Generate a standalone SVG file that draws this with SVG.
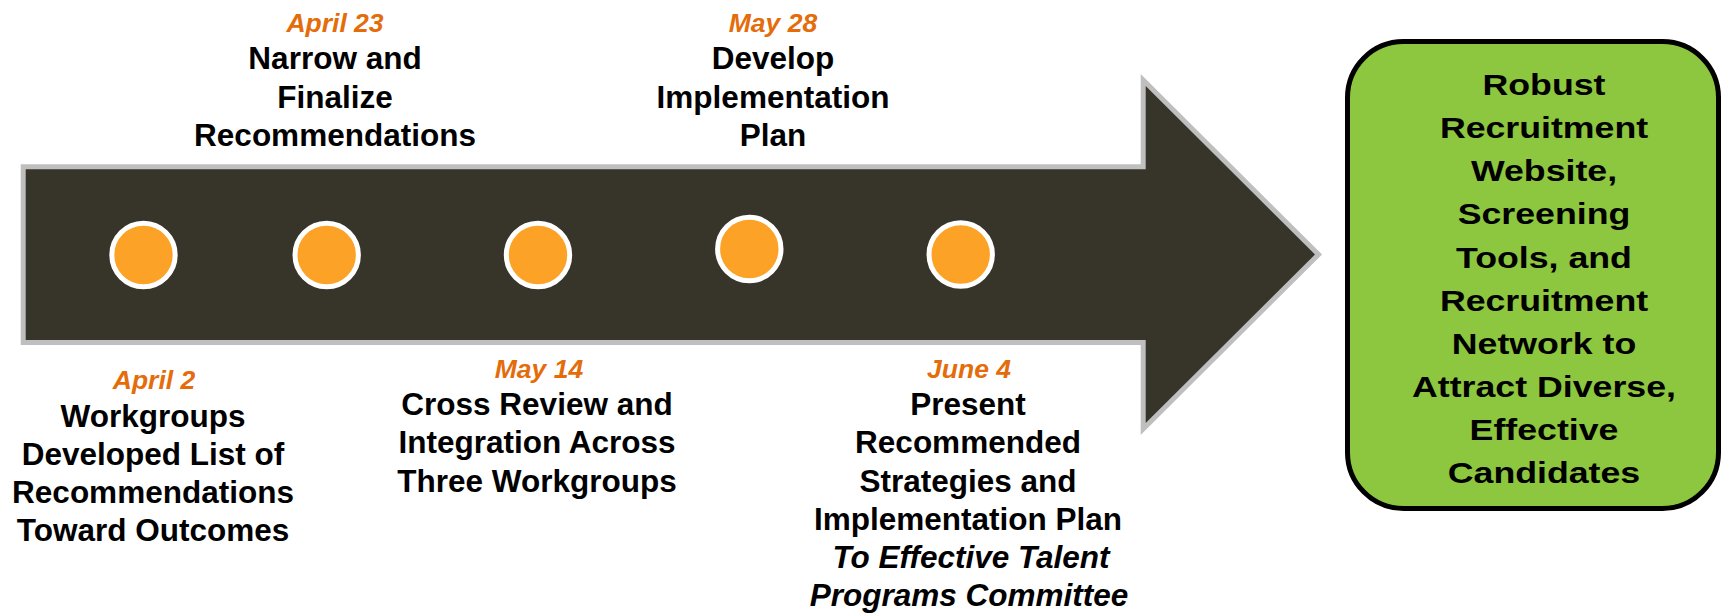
<svg xmlns="http://www.w3.org/2000/svg" width="1723" height="613" viewBox="0 0 1723 613">
<style>
  text { font-family: "Liberation Sans", Arial, sans-serif; font-weight: bold; text-anchor: middle; }
  .lbl { font-size: 31.5px; fill: #000; }
  .date { font-size: 26.5px; font-style: italic; fill: #E46C0A; }
  .ital { font-style: italic; }
  .box { font-size: 30px; fill: #000; }
  .dot { fill: #FCA227; stroke: #FFFFFF; stroke-width: 5; }
</style>
<rect width="1723" height="613" fill="#FFFFFF"/>
<g id="timeline-arrow">
  <path id="arrow-shape" d="M25.7,169.3 L1145.7,169.3 L1145.7,86 L1315,254.5 L1145.7,423 L1145.7,340 L25.7,340 Z" fill="#BFBFBF" stroke="#BFBFBF" stroke-width="10" stroke-linejoin="miter" stroke-miterlimit="6"/>
  <path d="M25.7,169.3 L1145.7,169.3 L1145.7,86 L1315,254.5 L1145.7,423 L1145.7,340 L25.7,340 Z" fill="#37342A"/>
</g>
<g id="connectors"></g>
<g id="milestone-1"><circle class="dot" cx="143.5" cy="255" r="31.7"/></g>
<g id="milestone-2"><circle class="dot" cx="326.7" cy="255" r="31.7"/></g>
<g id="milestone-3"><circle class="dot" cx="538" cy="255" r="31.7"/></g>
<g id="milestone-4"><circle class="dot" cx="749.3" cy="249" r="31.7"/></g>
<g id="milestone-5"><circle class="dot" cx="960.7" cy="254.5" r="31.7"/></g>

<g id="label-april23">
  <text class="date" x="335" y="32">April 23</text>
  <text class="lbl" x="335" y="69">Narrow and</text>
  <text class="lbl" x="335" y="107.5">Finalize</text>
  <text class="lbl" x="335" y="146">Recommendations</text>
</g>
<g id="label-may28">
  <text class="date" x="773" y="32">May 28</text>
  <text class="lbl" x="773" y="69">Develop</text>
  <text class="lbl" x="773" y="107.5">Implementation</text>
  <text class="lbl" x="773" y="146">Plan</text>
</g>
<g id="label-april2">
  <text class="date" x="154" y="388.5">April 2</text>
  <text class="lbl" x="153" y="427">Workgroups</text>
  <text class="lbl" x="153" y="465">Developed List of</text>
  <text class="lbl" x="153" y="503">Recommendations</text>
  <text class="lbl" x="153" y="541">Toward Outcomes</text>
</g>
<g id="label-may14">
  <text class="date" x="539" y="378">May 14</text>
  <text class="lbl" x="537" y="415">Cross Review and</text>
  <text class="lbl" x="537" y="453.3">Integration Across</text>
  <text class="lbl" x="537" y="491.7">Three Workgroups</text>
</g>
<g id="label-june4">
  <text class="date" x="969" y="378">June 4</text>
  <text class="lbl" x="968" y="415">Present</text>
  <text class="lbl" x="968" y="453.3">Recommended</text>
  <text class="lbl" x="968" y="491.7">Strategies and</text>
  <text class="lbl" x="968" y="530">Implementation Plan</text>
  <text class="lbl ital" x="971" y="568.3">To Effective Talent</text>
  <text class="lbl ital" x="969" y="606">Programs Committee</text>
</g>

<g id="outcome-box">
  <rect x="1347.5" y="41.5" width="371" height="467" rx="56" ry="56" fill="#8DC63F" stroke="#000000" stroke-width="5"/>
  <g transform="translate(1544,0) scale(1.19,1)">
    <text class="box" x="0" y="95">Robust</text>
    <text class="box" x="0" y="138.2">Recruitment</text>
    <text class="box" x="0" y="181.3">Website,</text>
    <text class="box" x="0" y="224.5">Screening</text>
    <text class="box" x="0" y="267.6">Tools, and</text>
    <text class="box" x="0" y="310.8">Recruitment</text>
    <text class="box" x="0" y="353.9">Network to</text>
    <text class="box" x="0" y="397.1">Attract Diverse,</text>
    <text class="box" x="0" y="440.2">Effective</text>
    <text class="box" x="0" y="483.3">Candidates</text>
  </g>
</g>
</svg>
